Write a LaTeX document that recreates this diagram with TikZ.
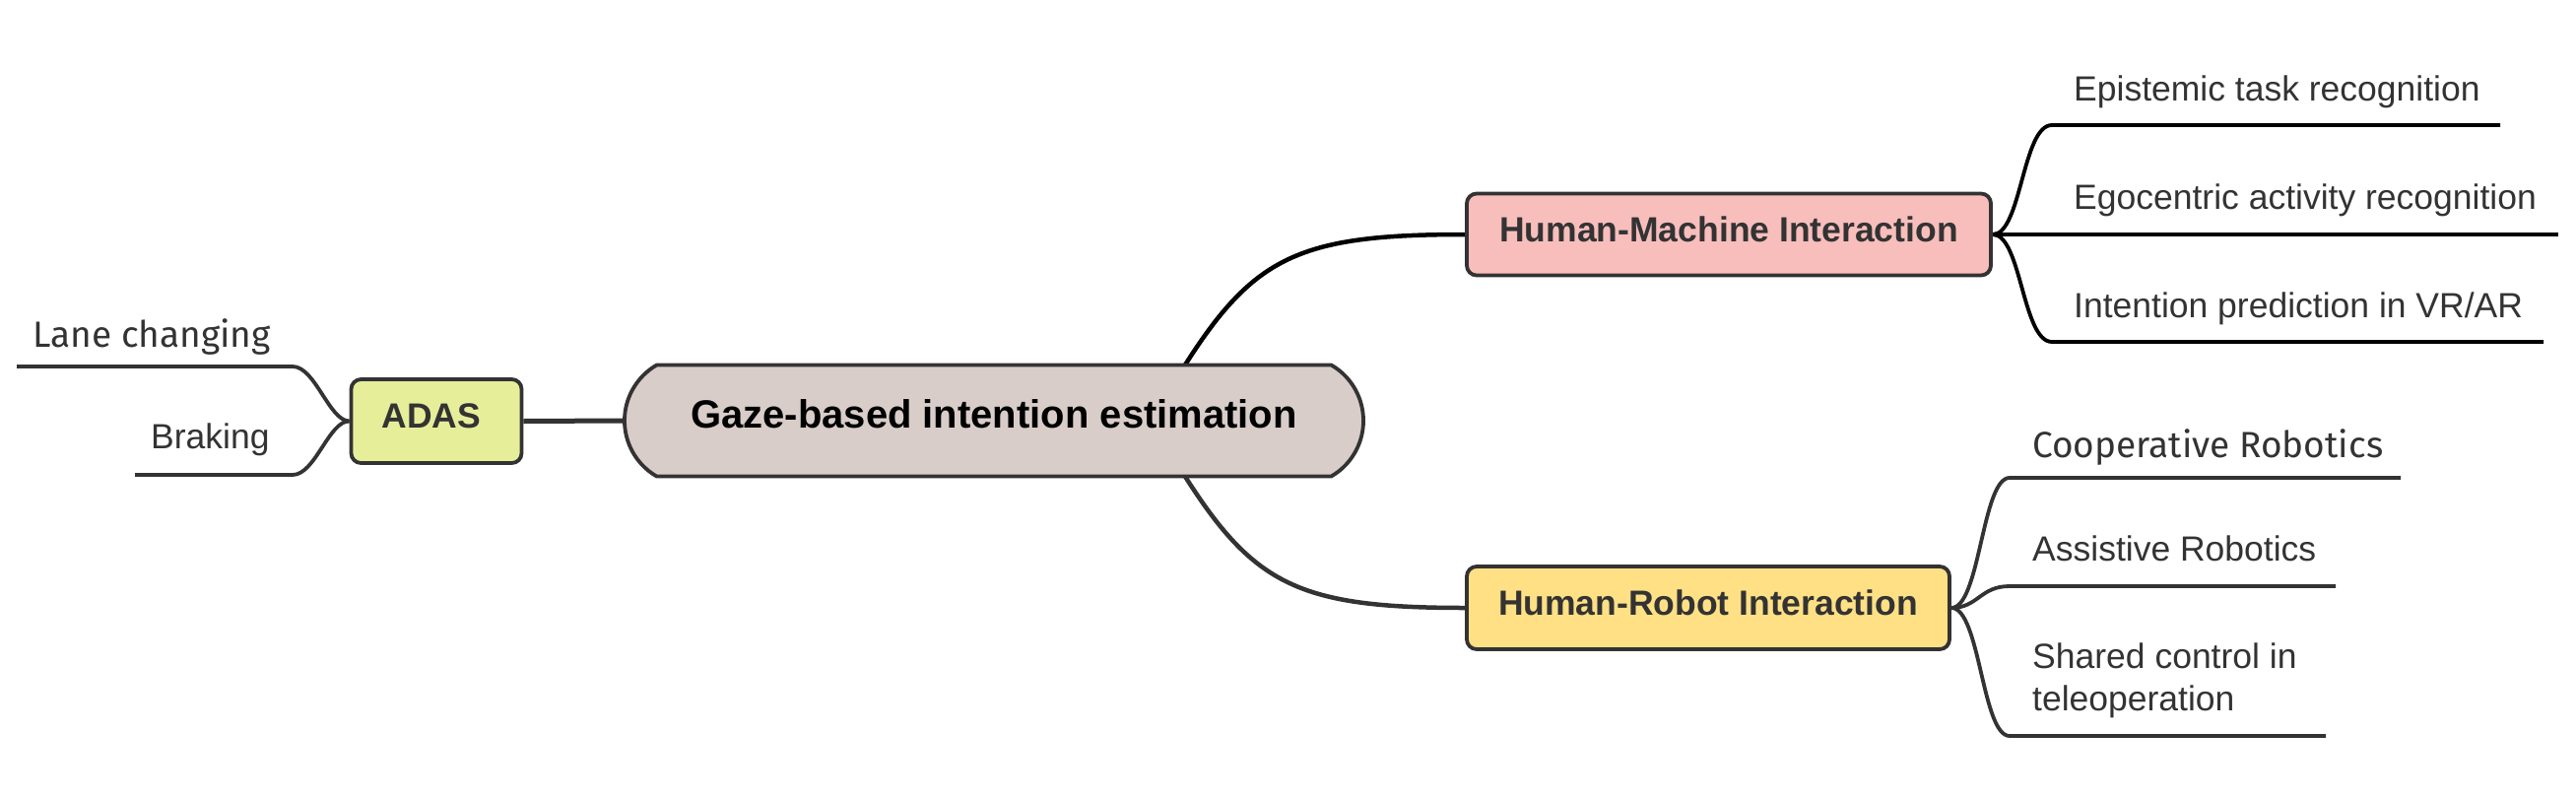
\documentclass[tikz,border=0pt]{standalone}
\usepackage{fontspec}
\setmainfont{Liberation Sans}
\newfontfamily\altfont{Fira Sans}
\usetikzlibrary{shapes.misc,backgrounds}
\definecolor{bord}{HTML}{333333}
\definecolor{cenfill}{HTML}{D8CDC9}
\definecolor{hmifill}{HTML}{F8BEBC}
\definecolor{hrifill}{HTML}{FFE085}
\definecolor{adasfill}{HTML}{E6EE9A}
\definecolor{txt}{HTML}{333333}
\begin{document}
\begin{tikzpicture}[x=1pt,y=-1pt,
  box/.style={draw=bord, line width=3.8, rounded corners=10, text=txt,
    font=\bfseries\fontsize{35.5}{43}\selectfont, inner sep=0,
    text height=26, text depth=12},
  leaf/.style={text=txt, font=\fontsize{35.5}{43}\selectfont, inner sep=0},
  altleaf/.style={text=txt, font=\altfont\fontsize{37}{43}\selectfont, inner sep=0},
  blackline/.style={line width=3.8, black},
  grayline/.style={line width=3.8, bord},
]
\useasboundingbox (0,0) rectangle (2615,809);

% main nodes
\node[draw=bord, line width=3.8, fill=cenfill, rounded rectangle,
  rounded rectangle arc length=120, minimum width=750, minimum height=113,
  inner sep=0, text height=29, text depth=14,
  font=\bfseries\fontsize{40}{48}\selectfont] (c) at (1009,427)
  {Gaze-based intention estimation};
\node[box, fill=hmifill, minimum width=532, minimum height=83] (hmi) at (1755,238) {Human-Machine Interaction};
\node[box, fill=hrifill, minimum width=490, minimum height=84] (hri) at (1734,617) {Human-Robot Interaction};
\node[box, fill=adasfill, minimum width=173, minimum height=85] (adas) at (443,427.5) {\hspace{-10pt}ADAS};

% leaf texts
\node[leaf, anchor=base west] (e1) at (2105,102) {Epistemic task recognition};
\node[leaf, anchor=base west] (e2) at (2105,212) {Egocentric activity recognition};
\node[leaf, anchor=base west] (e3) at (2105,322) {Intention prediction in VR/AR};
\node[altleaf, anchor=base west] (r1) at (2063,464) {Cooperative Robotics};
\node[leaf, anchor=base west] (r2) at (2063,569) {Assistive Robotics};
\node[leaf, anchor=north west, align=left] (r3) at (2063,653) {Shared control in\\teleoperation};
\node[altleaf, anchor=base west] (a1) at (33,352) {Lane changing};
\node[leaf, anchor=base west] (a2) at (153,455) {Braking};

% line end coordinates
\coordinate (cT) at (1202,372);
\coordinate (cB) at (1202,482);
\coordinate (e1s) at (2083,127); \coordinate (e1e) at (2538,127);
\coordinate (e2e) at (2597,238);
\coordinate (e3s) at (2083,347); \coordinate (e3e) at (2582,347);
\coordinate (r1s) at (2040,485); \coordinate (r1e) at (2437,485);
\coordinate (r2s) at (2040,595); \coordinate (r2e) at (2371,595);
\coordinate (r3s) at (2040,747); \coordinate (r3e) at (2361,747);
\coordinate (a1s) at (297,372); \coordinate (a1e) at (17,372);
\coordinate (a2s) at (297,482); \coordinate (a2e) at (137,482);

\begin{scope}[on background layer]
  \draw[line width=4.5, black] (cT) .. controls (1273,260) and (1319,238) .. (hmi.west);
  \draw[line width=4.5, bord] (cB) .. controls (1273,594) and (1319,617) .. (hri.west);
  \draw[line width=5, bord] (adas.east) -- (c.west);
  % HMI leaves
  \draw[blackline] (hmi.east) .. controls (2052,238) and (2053,127) .. (e1s) -- (e1e);
  \draw[blackline] (hmi.east) -- (e2e);
  \draw[blackline] (hmi.east) .. controls (2052,238) and (2053,347) .. (e3s) -- (e3e);
  % HRI leaves
  \draw[grayline] (hri.east) .. controls (2010,617) and (2012,485) .. (r1s) -- (r1e);
  \draw[grayline] (hri.east) .. controls (2008,617) and (2010,595) .. (r2s) -- (r2e);
  \draw[grayline] (hri.east) .. controls (2010,617) and (2012,747) .. (r3s) -- (r3e);
  % ADAS leaves
  \draw[grayline] (adas.west) .. controls (334,427) and (320,372) .. (a1s) -- (a1e);
  \draw[grayline] (adas.west) .. controls (334,427) and (320,482) .. (a2s) -- (a2e);
\end{scope}
\end{tikzpicture}
\end{document}
